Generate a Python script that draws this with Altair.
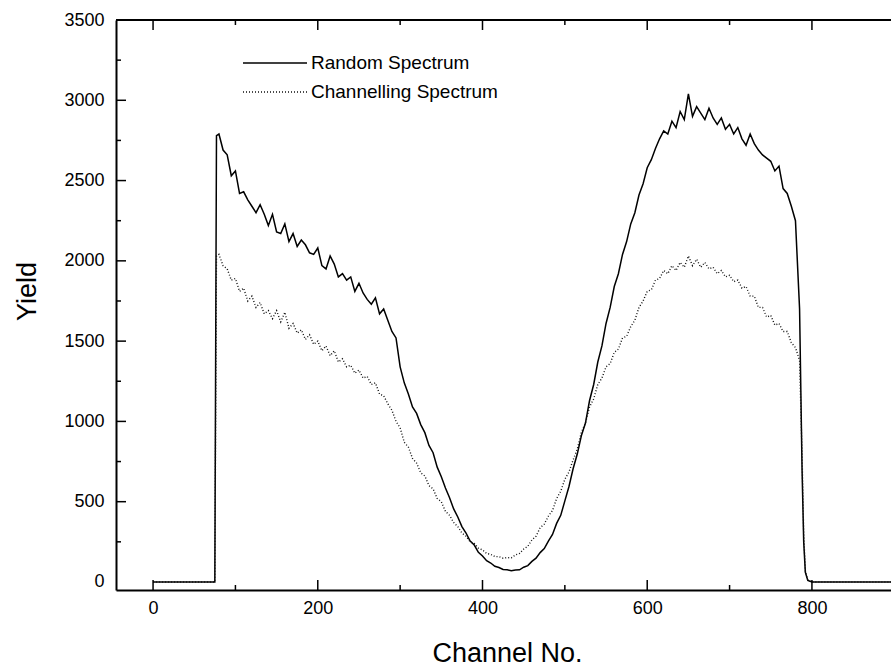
import altair as alt
import pandas as pd

# ---------------- data ----------------
CHANNELS = [0, 75, 77] + list(range(80, 790, 5)) + [788, 790, 792, 795, 800, 900]

RANDOM = [0, 0, 2780,
    2790, 2690, 2660, 2530, 2560, 2420, 2430, 2380, 2340, 2300,
    2350, 2290, 2220, 2290, 2180, 2170, 2230, 2120, 2170, 2090,
    2130, 2100, 2050, 2040, 2080, 1970, 1950, 2030, 1980, 1900,
    1920, 1880, 1900, 1810, 1860, 1800, 1760, 1730, 1770, 1670,
    1700, 1630, 1560, 1520, 1340, 1240, 1170, 1090, 1050, 980,
    930, 850, 805, 715, 655, 585, 525, 455, 405, 345,
    305, 255, 230, 185, 162, 132, 118, 98, 90, 78,
    76, 70, 75, 76, 92, 102, 128, 148, 183, 208,
    255, 296, 365, 415, 505, 595, 705, 795, 910, 990,
    1130, 1230, 1370, 1470, 1610, 1710, 1840, 1920, 2040, 2120,
    2230, 2300, 2410, 2480, 2580, 2630, 2700, 2760, 2810, 2790,
    2870, 2830, 2930, 2880, 3040, 2900, 2960, 2920, 2880, 2950,
    2890, 2850, 2890, 2820, 2850, 2790, 2830, 2760, 2720, 2790,
    2730, 2690, 2660, 2640, 2620, 2560, 2590, 2450, 2420, 2340,
    2250, 1700,
    700, 250, 60, 10, 0, 0]

CHANNELLING = [0, 0, 2030,
    2040, 1970, 1950, 1880, 1890, 1810, 1830, 1750, 1780, 1710,
    1740, 1670, 1690, 1640, 1690, 1620, 1680, 1580, 1610, 1550,
    1570, 1510, 1540, 1480, 1500, 1440, 1470, 1410, 1440, 1370,
    1390, 1340, 1350, 1300, 1320, 1270, 1280, 1230, 1240, 1170,
    1160, 1110, 1070, 1000, 960, 870, 840, 770, 740, 680,
    660, 600, 580, 520, 500, 440, 415, 370, 345, 305,
    285, 250, 240, 210, 200, 178, 172, 158, 158, 148,
    152, 150, 168, 178, 205, 222, 262, 285, 338, 360,
    410, 445, 520, 565, 640, 685, 760, 825, 930, 990,
    1090, 1140, 1230, 1270, 1340, 1360, 1430, 1450, 1520, 1530,
    1590, 1630, 1710, 1750, 1810, 1820, 1880, 1890, 1940, 1920,
    1970, 1940, 1990, 1960, 2030, 1970, 2010, 1960, 1990, 1950,
    1960, 1920, 1940, 1900, 1910, 1870, 1880, 1830, 1840, 1780,
    1780, 1710, 1710, 1650, 1660, 1600, 1610, 1560, 1560, 1490,
    1460, 1380,
    800, 300, 70, 10, 0, 0]

SERIES = ["Random Spectrum", "Channelling Spectrum"]
X_TICKS = [0, 200, 400, 600, 800]
X_MINOR = [100, 300, 500, 700]
Y_TICKS = [0, 500, 1000, 1500, 2000, 2500, 3000, 3500]
Y_MINOR = [250, 750, 1250, 1750, 2250, 2750, 3250]
X_TITLE = "Channel No."
Y_TITLE = "Yield"

# ---------------- layout ----------------
W, H = 775, 570
FONT = "Liberation Sans"
xs = alt.Scale(domain=[-45, 896], nice=False, zero=False)
ys = alt.Scale(domain=[-50, 3500], nice=False, zero=False)

X_AXIS = alt.Axis(values=X_TICKS, title=X_TITLE, labelPadding=9, orient="bottom",
                  format="d",
                  titleX=391, titleY=71, titleBaseline="alphabetic", titleAlign="center")
Y_AXIS = alt.Axis(values=Y_TICKS, title=Y_TITLE, labelPadding=12, orient="left",
                  format="d",
                  titleAngle=270, titleX=-81, titleY=271,
                  titleBaseline="alphabetic", titleAlign="center")


def X(field):
    return alt.X(field, scale=xs, axis=X_AXIS)


def Y(field):
    return alt.Y(field, scale=ys, axis=Y_AXIS)


df = pd.DataFrame({"ch": CHANNELS, "random": RANDOM, "chan": CHANNELLING})
base = alt.Chart(df)

random_line = base.mark_line(color="black", strokeWidth=1.5, clip=True).encode(
    x=X("ch:Q"), y=Y("random:Q"))

chan_line = base.mark_line(color="#111111", strokeWidth=1.4, strokeDash=[1, 2],
                           clip=True).encode(x=X("ch:Q"), y=Y("chan:Q"))

xt = pd.DataFrame({"v": X_TICKS})
xm = pd.DataFrame({"v": X_MINOR})
yt = pd.DataFrame({"v": Y_TICKS[1:-1]})
ym = pd.DataFrame({"v": Y_MINOR})


def xrule(d, y1, y2):
    return alt.Chart(d).mark_rule(color="black", strokeWidth=1.5).encode(
        x=X("v:Q"), y=alt.value(y1), y2=alt.value(y2))


def yrule(d, x1, x2):
    return alt.Chart(d).mark_rule(color="black", strokeWidth=1.5).encode(
        y=Y("v:Q"), x=alt.value(x1), x2=alt.value(x2))


ticks = [
    xrule(xt, H, H - 10), xrule(xm, H, H - 5),
    xrule(xt, 0, 10), xrule(xm, 0, 5),
    yrule(yt, 0, 10), yrule(ym, 0, 5),
]

one = pd.DataFrame({"a": [0]})
top_frame = alt.Chart(one).mark_rule(color="black", strokeWidth=2).encode(
    x=alt.value(0), x2=alt.value(W), y=alt.value(0))

leg_solid = alt.Chart(one).mark_rule(color="black", strokeWidth=1.3).encode(
    x=alt.value(127), x2=alt.value(191), y=alt.value(43))
leg_dot = alt.Chart(one).mark_rule(color="#111111", strokeWidth=1.4,
                                   strokeDash=[1, 2]).encode(
    x=alt.value(127), x2=alt.value(191), y=alt.value(72))
leg_t1 = alt.Chart(one).mark_text(text=SERIES[0], align="left", baseline="middle",
                                  font=FONT, fontSize=19, color="black").encode(
    x=alt.value(195), y=alt.value(43))
leg_t2 = alt.Chart(one).mark_text(text=SERIES[1], align="left", baseline="middle",
                                  font=FONT, fontSize=19, color="black").encode(
    x=alt.value(195), y=alt.value(72))

chart = alt.layer(
    random_line, chan_line, *ticks, top_frame, leg_solid, leg_dot, leg_t1, leg_t2
).properties(
    width=W, height=H,
    padding={"left": 116, "top": 20, "right": 0, "bottom": 76},
    autosize=alt.AutoSizeParams(type="none"),
    background="white",
).configure_view(stroke=None).configure_axis(
    domainColor="black", domainWidth=2, grid=False, ticks=False,
    labelFont=FONT, labelFontSize=18, labelColor="black",
    titleFont=FONT, titleFontSize=27, titleFontWeight="normal", titleColor="black",
)

chart.save("out.html", embed_options={"renderer": "svg", "actions": False})
